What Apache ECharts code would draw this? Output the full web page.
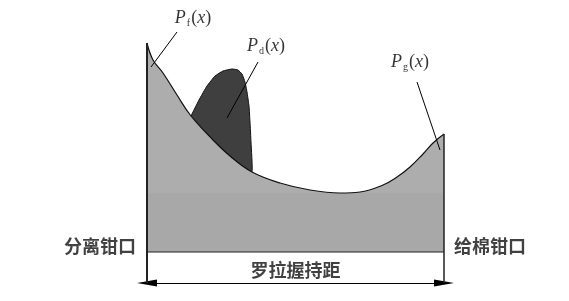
<!DOCTYPE html>
<html>
<head>
<meta charset="utf-8">
<script src="https://cdn.jsdelivr.net/npm/echarts@6/dist/echarts.min.js"></script>
<style>html,body{margin:0;padding:0;background:#fff}#c{width:569px;height:301px}</style>
</head>
<body>
<div id="c"></div>
<script>
// Schematic force distribution between the two nips (x: position along roller gauge, y: force)
var pfPgCurve = [[0,209],[6,192],[16,179],[30,157],[44,136],[66,112],[83,96],[105,80],[133,69],[163,62],[193,59],[213,60],[236,67],[250,75],[263,85],[276,98],[286,109],[297,118]];
var pdCurveTop = [[44,136],[52,152],[60,166],[68,176],[76,181],[85,183],[91,182],[95,178],[98,170],[100,160],[102,146],[103,130],[104,110],[105,80]];
var pdCurveBottom = [[95,86],[83,96],[66,112],[44,136]];
var gaugeLength = 297;
var arrowLevel = -31;
var leaderPf = [[4,185],[30,220]];
var leaderPd = [[111,190],[80,134]];
var leaderPg = [[270,170],[293,102]];
var labelPos = { pf: [46,234], pd: [119,206], pg: [263,190] };
var nipLabels = ['分离钳口', '给棉钳口'];
var gaugeLabel = '罗拉握持距';

var chart = echarts.init(document.getElementById('c'), null, {renderer:'canvas'});

function mathLabel(sub){
  return {
    show: true,
    position: 'inside',
    formatter: '{p|P}{s|' + sub + '}{n|(}{i|x}{n|)}',
    rich: {
      p: {fontFamily:'Liberation Serif', fontStyle:'italic', fontSize:18, color:'#000'},
      s: {fontFamily:'Liberation Serif', fontSize:10, color:'#000', padding:[10,1,0,1]},
      n: {fontFamily:'Liberation Serif', fontSize:18, color:'#000'},
      i: {fontFamily:'Liberation Serif', fontStyle:'italic', fontSize:18, color:'#000'}
    }
  };
}
function leader(d){
  return {type:'line', data:d, showSymbol:false, silent:true, z:6,
    lineStyle:{color:'#000', width:1}};
}
var cjk = {fontFamily:'Noto Sans CJK SC', fontSize:18, fontWeight:'bold', color:'#111'};

var option = {
  animation: false,
  grid: {left:147, right:125, top:0, bottom:16},
  xAxis: {type:'value', min:0, max:gaugeLength, show:false},
  yAxis: {type:'value', min:-33, max:252, show:false},
  series: [
    {
      type:'custom', z:2, silent:true,
      data:[0],
      renderItem: function(params, api){
        var pts = pdCurveTop.concat(pdCurveBottom).map(function(p){ return api.coord(p); });
        return {type:'polygon', shape:{points:pts, smooth:0.12},
          style:{fill:'#3f3f3f', stroke:'#111', lineWidth:1}};
      }
    },
    {
      type:'line', z:3, data:pfPgCurve, smooth:0.4, showSymbol:false, silent:true,
      lineStyle:{color:'#111', width:1.2},
      areaStyle:{opacity:1, color:{type:'linear', x:0, y:0, x2:0, y2:1, colorStops:[
        {offset:0, color:'#adadad'}, {offset:0.715, color:'#adadad'},
        {offset:0.72, color:'#a8a8a8'}, {offset:1, color:'#a8a8a8'}]}}
    },
    {type:'line', z:5, data:[[0,pfPgCurve[0][1]],[0,arrowLevel]], showSymbol:false, silent:true, lineStyle:{color:'#222', width:2}},
    {type:'line', z:5, data:[[gaugeLength,pfPgCurve[pfPgCurve.length-1][1]],[gaugeLength,arrowLevel]], showSymbol:false, silent:true, lineStyle:{color:'#222', width:1.5}},
    {type:'line', z:5, data:[[0,0],[gaugeLength,0]], showSymbol:false, silent:true, lineStyle:{color:'#222', width:1.2},
      markLine:{silent:true, symbol:['triangle','triangle'], symbolSize:[7,20], label:{show:false},
        lineStyle:{color:'#000', width:1, type:'solid'},
        data:[[{coord:[0,arrowLevel]},{coord:[gaugeLength,arrowLevel]}]]}},
    leader(leaderPf), leader(leaderPd), leader(leaderPg),
    {type:'scatter', z:7, symbolSize:0, silent:true, data:[
      {value:labelPos.pf, label:mathLabel('f')},
      {value:labelPos.pd, label:mathLabel('d')},
      {value:labelPos.pg, label:mathLabel('g')},
      {value:[0,6], label:Object.assign({show:true, position:'left', distance:11, formatter:nipLabels[0]}, cjk)},
      {value:[gaugeLength,6], label:Object.assign({show:true, position:'right', distance:10, formatter:nipLabels[1]}, cjk)},
      {value:[gaugeLength/2,-18], label:Object.assign({show:true, position:'inside', formatter:gaugeLabel}, cjk)}
    ]}
  ]
};
chart.setOption(option);
</script>
</body>
</html>
